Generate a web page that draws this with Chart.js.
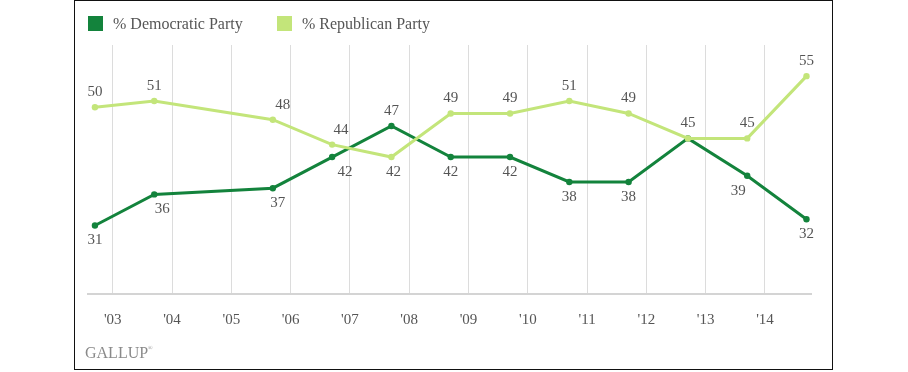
<!DOCTYPE html>
<html>
<head>
<meta charset="utf-8">
<script src="https://cdn.jsdelivr.net/npm/chart.js@4"></script>
<style>
  body { margin: 0; background: #fff; }
  #wrap { position: relative; width: 908px; height: 372px; }
  #frame { position: absolute; left: 74px; top: 0; width: 757px; height: 368px; border: 1.5px solid #111; }
  #chart { position: absolute; left: 0; top: 0; }
  .legend { position: absolute; top: 15px; font: 16px "Liberation Serif", serif; color: #555; }
  .legend span { display: inline-block; width: 15px; height: 15px; vertical-align: -2px; margin-right: 10px; }
  #gallup { position: absolute; left: 85px; top: 344px; font: 16px "Liberation Serif", serif; color: #8a8a8a; }
  #gallup sup { font-size: 6px; vertical-align: 8px; }
</style>
</head>
<body>
<div id="wrap">
  <div id="frame"></div>
  <canvas id="chart" width="908" height="372"></canvas>
  <div class="legend" style="left:88px"><span style="background:#13833c"></span>% Democratic Party</div>
  <div class="legend" style="left:277px"><span style="background:#c3e57a"></span>% Republican Party</div>
  <div id="gallup">GALLUP<sup>®</sup></div>
</div>
<script>
const pollDates = [2002.7, 2003.7, 2005.7, 2006.7, 2007.7, 2008.7, 2009.7, 2010.7, 2011.7, 2012.7, 2013.7, 2014.7];
const demValues = [31, 36, 37, 42, 47, 42, 42, 38, 38, 45, 39, 32];
const repValues = [50, 51, 48, 44, 42, 49, 49, 51, 49, 45, 45, 55];
const tickYears = [2003, 2004, 2005, 2006, 2007, 2008, 2009, 2010, 2011, 2012, 2013, 2014];
const tickLabels = ["'03", "'04", "'05", "'06", "'07", "'08", "'09", "'10", "'11", "'12", "'13", "'14"];

const darkGreen = '#13833c';
const lightGreen = '#c3e57a';

// where each value label goes: 1 above, -1 below, 0 none
const demSide = [-1, -1, -1, -1, 1, -1, -1, -1, -1, 0, -1, -1];
const repSide = [1, 1, 1, 1, -1, 1, 1, 1, 1, 1, 1, 1];
const demNudge = [0, 8, 5, 13, 0, 0, 0, 0, 0, 0, -9, 0];
const repNudge = [0, 0, 10, 9, 2, 0, 0, 0, 0, 0, 0, 0];

function toPoints(vals) {
  return pollDates.map((d, i) => ({ x: d, y: vals[i] }));
}

const valueLabels = {
  id: 'valueLabels',
  afterDatasetsDraw(chart) {
    const ctx = chart.ctx;
    ctx.save();
    ctx.font = '15px "Liberation Serif", serif';
    ctx.fillStyle = '#555';
    ctx.textAlign = 'center';
    ctx.textBaseline = 'middle';
    chart.data.datasets.forEach((ds, di) => {
      const meta = chart.getDatasetMeta(di);
      meta.data.forEach((pt, i) => {
        const side = ds.labelSide[i];
        if (!side) return;
        ctx.fillText(ds.data[i].y, pt.x + ds.labelNudge[i], pt.y - side * 15);
      });
    });
    ctx.restore();
  }
};

new Chart(document.getElementById('chart'), {
  type: 'line',
  data: {
    datasets: [
      {
        label: '% Republican Party',
        data: toPoints(repValues),
        borderColor: lightGreen,
        backgroundColor: lightGreen,
        borderWidth: 3,
        pointRadius: 3.2,
        pointBorderWidth: 0,
        tension: 0,
        labelSide: repSide,
        labelNudge: repNudge
      },
      {
        label: '% Democratic Party',
        data: toPoints(demValues),
        borderColor: darkGreen,
        backgroundColor: darkGreen,
        borderWidth: 3,
        pointRadius: 3.2,
        pointBorderWidth: 0,
        tension: 0,
        labelSide: demSide,
        labelNudge: demNudge
      }
    ]
  },
  options: {
    responsive: false,
    animation: false,
    layout: { padding: { left: 88, right: 97, top: 45, bottom: 0 } },
    plugins: { legend: { display: false }, tooltip: { enabled: false } },
    scales: {
      x: {
        type: 'linear',
        min: 2002.583,
        max: 2014.776,
        afterBuildTicks: s => { s.ticks = tickYears.map(v => ({ value: v })); },
        afterFit: s => { s.height = 78; },
        grid: { color: '#dcdcdc', lineWidth: 1, drawTicks: false },
        border: { color: '#d4d4d4', width: 2 },
        ticks: {
          padding: 17,
          color: '#555',
          font: { family: '"Liberation Serif", serif', size: 15 },
          callback: v => tickLabels[tickYears.indexOf(v)]
        }
      },
      y: {
        display: false,
        min: 20,
        max: 60
      }
    }
  },
  plugins: [valueLabels]
});
</script>
</body>
</html>
